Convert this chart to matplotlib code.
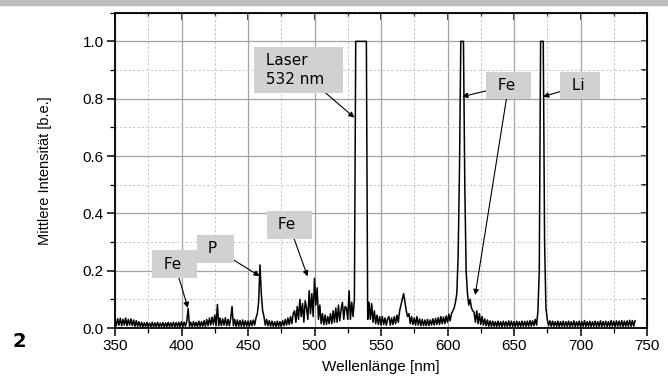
import numpy as np
import matplotlib
matplotlib.use("Agg")
import matplotlib.pyplot as plt
from matplotlib.ticker import MultipleLocator
from matplotlib.patches import Rectangle

# spectrum, one value per nm starting at 350 nm
wl_start = 350
intensity = [
    0.03, 0.008, 0.032, 0.01, 0.034, 0.008, 0.03, 0.01, 0.035, 0.008,
    0.03, 0.01, 0.032, 0.008, 0.028, 0.006, 0.026, 0.006, 0.022, 0.005,
    0.02, 0.004, 0.018, 0.005, 0.02, 0.004, 0.017, 0.005, 0.02, 0.004,
    0.018, 0.005, 0.02, 0.004, 0.017, 0.005, 0.019, 0.004, 0.018, 0.005,
    0.02, 0.004, 0.018, 0.005, 0.02, 0.004, 0.019, 0.005, 0.02, 0.005,
    0.022, 0.005, 0.02, 0.006, 0.025, 0.068, 0.006, 0.02, 0.005, 0.022,
    0.006, 0.02, 0.005, 0.024, 0.006, 0.022, 0.006, 0.026, 0.006, 0.03,
    0.008, 0.035, 0.01, 0.038, 0.012, 0.045, 0.008, 0.082, 0.008, 0.035,
    0.008, 0.032, 0.01, 0.036, 0.008, 0.03, 0.008, 0.034, 0.075, 0.008,
    0.03, 0.006, 0.028, 0.006, 0.026, 0.006, 0.028, 0.006, 0.025, 0.006,
    0.024, 0.006, 0.026, 0.008, 0.028, 0.01, 0.035, 0.05, 0.09, 0.22,
    0.12, 0.06, 0.04, 0.01, 0.03, 0.008, 0.026, 0.006, 0.024, 0.006,
    0.022, 0.005, 0.024, 0.006, 0.022, 0.005, 0.026, 0.008, 0.03, 0.01,
    0.035, 0.012, 0.04, 0.015, 0.05, 0.06, 0.02, 0.075, 0.03, 0.1,
    0.04, 0.085, 0.02, 0.095, 0.07, 0.03, 0.13, 0.05, 0.12, 0.04,
    0.173, 0.08, 0.14, 0.03, 0.08, 0.015, 0.05, 0.012, 0.045, 0.012,
    0.04, 0.015, 0.05, 0.015, 0.06, 0.02, 0.07, 0.02, 0.08, 0.025,
    0.065, 0.09, 0.03, 0.075, 0.07, 0.03, 0.13, 0.03, 0.09, 0.04,
    0.1, 1.0, 1.0, 1.0, 1.0, 1.0, 1.0, 1.0, 1.0, 1.0,
    0.03, 0.09, 0.03, 0.085, 0.02, 0.06, 0.015, 0.045, 0.012, 0.04,
    0.01, 0.04, 0.012, 0.035, 0.01, 0.032, 0.04, 0.01, 0.035, 0.012,
    0.04, 0.015, 0.045, 0.02, 0.06, 0.08, 0.1, 0.12, 0.09, 0.06,
    0.04, 0.05, 0.015, 0.04, 0.012, 0.035, 0.01, 0.04, 0.01, 0.032,
    0.008, 0.03, 0.008, 0.028, 0.008, 0.03, 0.008, 0.028, 0.01, 0.032,
    0.01, 0.034, 0.012, 0.036, 0.012, 0.04, 0.015, 0.038, 0.015, 0.042,
    0.02, 0.048, 0.025, 0.05, 0.06, 0.07, 0.09, 0.12, 0.25, 0.55,
    1.0, 1.0, 1.0, 0.5, 0.2, 0.12, 0.08, 0.1, 0.07, 0.06,
    0.055, 0.02, 0.06, 0.015, 0.05, 0.012, 0.04, 0.01, 0.032, 0.008,
    0.028, 0.006, 0.025, 0.006, 0.024, 0.006, 0.022, 0.005, 0.024, 0.006,
    0.022, 0.005, 0.024, 0.006, 0.022, 0.005, 0.025, 0.006, 0.024, 0.006,
    0.022, 0.005, 0.024, 0.006, 0.022, 0.005, 0.024, 0.006, 0.023, 0.006,
    0.024, 0.006, 0.026, 0.007, 0.025, 0.008, 0.03, 0.01, 0.06, 0.2,
    1.0, 1.0, 1.0, 0.3, 0.07, 0.03, 0.008, 0.025, 0.006, 0.024,
    0.006, 0.022, 0.006, 0.024, 0.005, 0.022, 0.006, 0.024, 0.005, 0.022,
    0.006, 0.024, 0.005, 0.022, 0.006, 0.025, 0.005, 0.022, 0.006, 0.024,
    0.005, 0.022, 0.006, 0.026, 0.005, 0.022, 0.006, 0.024, 0.005, 0.022,
    0.006, 0.024, 0.005, 0.022, 0.006, 0.025, 0.005, 0.023, 0.006, 0.024,
    0.005, 0.022, 0.006, 0.026, 0.006, 0.024, 0.005, 0.025, 0.006, 0.024,
    0.006, 0.026, 0.005, 0.024, 0.006, 0.025, 0.006, 0.027, 0.006, 0.026,
    0.006, 0.025,
]
wavelength = np.arange(wl_start, wl_start + len(intensity))

# labels: (text, box centre, arrow targets)
label_texts = [" Fe  ", " P  ", " Fe  ", " Laser      \n 532 nm  ", " Fe  ", " Li  "]
label_pos = [(395.0, 0.223), (425.4, 0.277), (480.9, 0.360),
             (488.0, 0.901), (645.9, 0.846), (699.9, 0.846)]
label_tips = [[(404.8, 0.07)], [(458.8, 0.181)], [(494.8, 0.18)],
              [(530.0, 0.734)], [(611.0, 0.807), (620.8, 0.115)],
              [(671.8, 0.807)]]

fig = plt.figure(figsize=(6.68, 3.76), dpi=100)
fig.patches.append(Rectangle((0, 1 - 4.5 / 376), 1, 4.5 / 376, transform=fig.transFigure,
                             color="#bdbec2", zorder=0))
ax = fig.add_axes([115 / 668, 1 - 328 / 376, (647 - 115) / 668, (328 - 12.7) / 376])

ax.plot(wavelength, intensity, color="black", lw=1.1, zorder=2)

ax.set_xlim(350, 750)
ax.set_ylim(0, 1.1)
ax.xaxis.set_major_locator(MultipleLocator(50))
ax.xaxis.set_minor_locator(MultipleLocator(25))
ax.yaxis.set_major_locator(MultipleLocator(0.2))
ax.yaxis.set_minor_locator(MultipleLocator(0.1))
ax.yaxis.set_major_formatter(matplotlib.ticker.FormatStrFormatter("%.1f"))

ax.grid(which="major", color="#a3a3a3", lw=0.9, ls="-", zorder=0)
ax.grid(which="minor", color="#c8c8c8", lw=0.7, ls=(0, (2.5, 2)), zorder=0)
ax.set_axisbelow(True)

for s in ax.spines.values():
    s.set_linewidth(1.3)
ax.tick_params(which="major", direction="out", length=6, width=1.1,
               labelsize=11, labelfontfamily="Liberation Sans", pad=2)
ax.tick_params(which="minor", direction="out", length=3.5, width=0.9)

top = ax.secondary_xaxis("top")
top.xaxis.set_major_locator(MultipleLocator(50))
top.xaxis.set_minor_locator(MultipleLocator(25))
top.tick_params(which="major", direction="in", length=5, width=1.1, labeltop=False)
top.tick_params(which="minor", direction="in", length=3, width=0.9)
right = ax.secondary_yaxis("right")
right.yaxis.set_major_locator(MultipleLocator(0.2))
right.yaxis.set_minor_locator(MultipleLocator(0.1))
right.tick_params(which="both", direction="in", length=4, width=1.1, labelright=False)

ax.set_xlabel("Wellenlänge [nm]", family="Liberation Sans", fontsize=11, labelpad=5)
ax.set_ylabel("Mittlere Intensität [b.e.]", family="Liberation Sans", fontsize=10.5, labelpad=22)

box = dict(boxstyle="square,pad=0.42", fc="#d0d1d1", ec="none")
arrow = dict(arrowstyle="-|>", color="black", lw=0.8, mutation_scale=8, shrinkA=0, shrinkB=0)
for txt, pos, tips in zip(label_texts, label_pos, label_tips):
    for tip in tips[1:]:
        ax.annotate("", xy=tip, xytext=pos, arrowprops=arrow, zorder=3)
    ax.annotate(txt, xy=tips[0], xytext=pos, ha="center", va="center",
                multialignment="left", fontsize=11, family="DejaVu Sans",
                linespacing=1.3, bbox=box, arrowprops=arrow, zorder=4)

fig.text(19 / 668, 1 - 341.5 / 376, "2", fontsize=14, weight="bold",
         ha="center", va="center")

fig.savefig("out.png", dpi=100)
